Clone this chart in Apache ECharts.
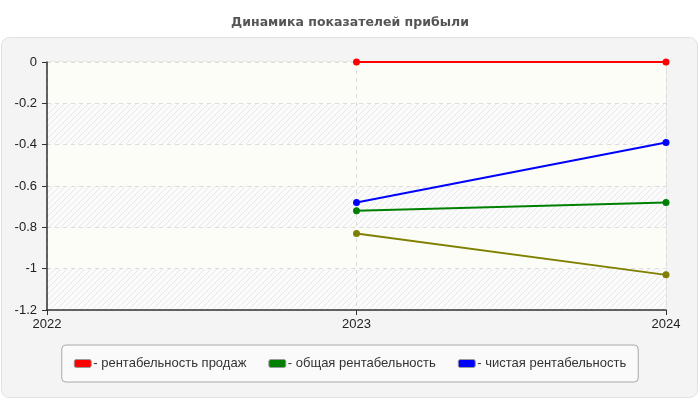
<!DOCTYPE html>
<html lang="ru">
<head>
    <meta charset="UTF-8">
    <title>Динамика показателей прибыли</title>
    <style>
        html, body { margin: 0; padding: 0; background: #fff; }
        #echart { width: 700px; height: 400px; }
    </style>
</head>
<body>
<div id="echart"></div>
<script src="https://cdn.jsdelivr.net/npm/echarts@6/dist/echarts.min.js"></script>
<script>
    // данные графика
    const years = ['2022', '2023', '2024']
    const salesProfit = [null, 0, 0]          // рентабельность продаж
    const totalProfit = [null, -0.72, -0.68]  // общая рентабельность
    const netProfit = [null, -0.68, -0.39]    // чистая рентабельность
    const otherProfit = [null, -0.83, -1.03]  // четвёртая линия, без подписи в легенде

    // штриховка фона области построения
    function hatch() {
        const c = document.createElement('canvas')
        c.width = 6
        c.height = 6
        const ctx = c.getContext('2d')
        ctx.fillStyle = '#fbfbfb'
        ctx.fillRect(0, 0, 6, 6)
        ctx.strokeStyle = '#e8e8e8'
        ctx.lineWidth = 1
        ctx.beginPath()
        ctx.moveTo(0, 6); ctx.lineTo(6, 0)
        ctx.moveTo(-3, 3); ctx.lineTo(3, -3)
        ctx.moveTo(3, 9); ctx.lineTo(9, 3)
        ctx.stroke()
        return { image: c, repeat: 'repeat' }
    }

    const font = 'Liberation Sans'
    const echart = echarts.init(document.getElementById('echart'))

    echart.setOption({
        animation: false,
        title: {
            text: 'Динамика показателей прибыли',
            left: 'center',
            top: 11,
            textStyle: { fontFamily: 'DejaVu Sans', fontSize: 12.5, fontWeight: 'bold', color: '#555' }
        },
        graphic: [{
            type: 'rect',
            z: -10,
            shape: { x: 1.5, y: 37.5, width: 696, height: 360, r: 8 },
            style: { fill: '#f4f4f4', stroke: '#e0e0e0', lineWidth: 1 }
        }],
        legend: {
            data: ['рентабельность продаж', 'общая рентабельность', 'чистая рентабельность'],
            left: 'center',
            top: 345,
            padding: [12, 12, 12, 12],
            itemGap: 22,
            itemWidth: 17,
            itemHeight: 8,
            backgroundColor: '#fafafa',
            borderColor: '#aaa',
            borderWidth: 1,
            borderRadius: 4,
            icon: 'roundRect',
            itemStyle: { borderColor: '#999', borderWidth: 1 },
            formatter: name => '- ' + name,
            textStyle: { fontFamily: font, fontSize: 13, color: '#333', padding: [0, 0, 0, -3] }
        },
        grid: {
            left: 47,
            right: 34,
            top: 62,
            bottom: 90,
            show: true,
            backgroundColor: '#fcfcfc',
            borderColor: '#dcdcdc',
            borderWidth: 1
        },
        xAxis: {
            type: 'category',
            data: years,
            boundaryGap: false,
            axisLine: { onZero: false, lineStyle: { color: '#333', width: 1.5 } },
            axisTick: { alignWithLabel: true, length: 5, lineStyle: { color: '#333' } },
            axisLabel: { fontFamily: font, fontSize: 13, color: '#222', margin: 8 },
            splitLine: { show: true, lineStyle: { color: '#dcdcdc', type: [4, 4] } }
        },
        yAxis: {
            type: 'value',
            min: -1.2,
            max: 0,
            interval: 0.2,
            axisLine: { show: true, lineStyle: { color: '#333', width: 1.5 } },
            axisTick: { show: true, length: 5, lineStyle: { color: '#333' } },
            axisLabel: {
                fontFamily: font, fontSize: 13, color: '#222', margin: 10,
                formatter: v => String(Math.round(v * 10) / 10)
            },
            splitLine: { show: true, lineStyle: { color: '#dcdcdc', type: [4, 4] } },
            splitArea: { show: true, areaStyle: { color: [hatch(), '#fdfdf7'] } }
        },
        series: [{
            name: 'четвёртая линия',
            type: 'line',
            data: otherProfit,
            color: '#808000',
            symbol: 'circle',
            symbolSize: 7,
            lineStyle: { width: 2 }
        }, {
            name: 'общая рентабельность',
            type: 'line',
            data: totalProfit,
            color: '#008000',
            symbol: 'circle',
            symbolSize: 7,
            lineStyle: { width: 2 }
        }, {
            name: 'чистая рентабельность',
            type: 'line',
            data: netProfit,
            color: '#0000ff',
            symbol: 'circle',
            symbolSize: 7,
            lineStyle: { width: 2 }
        }, {
            name: 'рентабельность продаж',
            type: 'line',
            data: salesProfit,
            color: '#ff0000',
            symbol: 'circle',
            symbolSize: 7,
            lineStyle: { width: 2 }
        }]
    })
</script>
</body>
</html>
